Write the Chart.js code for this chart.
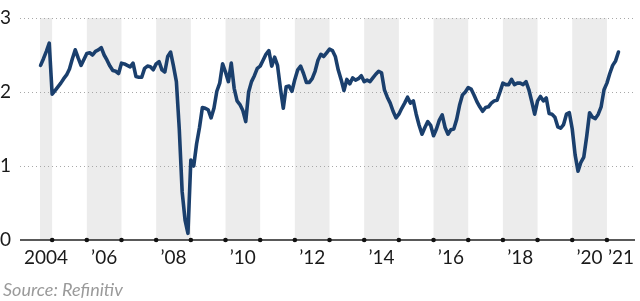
<!DOCTYPE html>
<html>
<head>
<meta charset="utf-8">
<script src="https://cdn.jsdelivr.net/npm/chart.js@4"></script>
<style>
  html, body { margin: 0; padding: 0; background: #fff; }
  #wrap { position: relative; width: 640px; height: 301px; }
  #source { position: absolute; left: 3px; top: 278px; font: italic 18px Lato, sans-serif; color: #9a9a9a; white-space: nowrap; }
</style>
</head>
<body>
<div id="wrap">
  <canvas id="c" width="640" height="301"></canvas>
  <div id="source">Source: Refinitiv</div>
</div>
<script>
// Monthly values per year (2004 starts in September, 2021 ends in May)
const firstMonth2004 = 9;
const v2004 = [2.36, 2.45, 2.55, 2.66];
const v2005 = [1.97, 2.02, 2.07, 2.12, 2.18, 2.23, 2.31, 2.45, 2.57, 2.46, 2.36, 2.44];
const v2006 = [2.52, 2.53, 2.50, 2.55, 2.57, 2.60, 2.50, 2.43, 2.35, 2.29, 2.28, 2.25];
const v2007 = [2.39, 2.38, 2.36, 2.34, 2.39, 2.21, 2.20, 2.20, 2.32, 2.35, 2.34, 2.30];
const v2008 = [2.38, 2.41, 2.30, 2.27, 2.48, 2.54, 2.35, 2.14, 1.50, 0.65, 0.27, 0.09];
const v2009 = [1.08, 1.00, 1.30, 1.52, 1.79, 1.78, 1.76, 1.65, 1.78, 2.01, 2.12, 2.38];
const v2010 = [2.27, 2.14, 2.39, 2.05, 1.88, 1.83, 1.75, 1.60, 2.00, 2.14, 2.22, 2.32];
const v2011 = [2.35, 2.43, 2.51, 2.56, 2.35, 2.47, 2.36, 2.05, 1.78, 2.07, 2.08, 2.01];
const v2012 = [2.17, 2.30, 2.35, 2.25, 2.13, 2.13, 2.18, 2.28, 2.43, 2.51, 2.48, 2.53];
const v2013 = [2.58, 2.56, 2.48, 2.30, 2.17, 2.02, 2.17, 2.11, 2.19, 2.16, 2.18, 2.22];
const v2014 = [2.14, 2.16, 2.14, 2.19, 2.24, 2.28, 2.26, 2.03, 1.93, 1.85, 1.74, 1.65];
const v2015 = [1.70, 1.78, 1.85, 1.93, 1.85, 1.88, 1.70, 1.55, 1.43, 1.52, 1.60, 1.55];
const v2016 = [1.41, 1.50, 1.62, 1.69, 1.52, 1.43, 1.49, 1.50, 1.63, 1.82, 1.96, 2.00];
const v2017 = [2.06, 2.04, 1.96, 1.87, 1.80, 1.74, 1.79, 1.80, 1.85, 1.88, 1.89, 2.00];
const v2018 = [2.12, 2.10, 2.10, 2.17, 2.10, 2.12, 2.12, 2.10, 2.14, 2.03, 1.87, 1.70];
const v2019 = [1.88, 1.94, 1.88, 1.92, 1.71, 1.70, 1.66, 1.53, 1.51, 1.56, 1.70, 1.72];
const v2020 = [1.50, 1.15, 0.93, 1.05, 1.12, 1.40, 1.72, 1.66, 1.64, 1.70, 1.80, 2.03];
const v2021 = [2.12, 2.25, 2.36, 2.42, 2.54];

const yearSeries = [
  [2004, v2004], [2005, v2005], [2006, v2006], [2007, v2007], [2008, v2008],
  [2009, v2009], [2010, v2010], [2011, v2011], [2012, v2012], [2013, v2013],
  [2014, v2014], [2015, v2015], [2016, v2016], [2017, v2017], [2018, v2018],
  [2019, v2019], [2020, v2020], [2021, v2021]
];

const yTicks = [0, 1, 2, 3];
const xLabelYears = [2004, 2006, 2008, 2010, 2012, 2014, 2016, 2018, 2020, 2021];
const xLabelTexts = ["2004", "\u201906", "\u201908", "\u201910", "\u201912", "\u201914", "\u201916", "\u201918", "\u201920", "\u201921"];
const shadedYears = [2004, 2006, 2008, 2010, 2012, 2014, 2016, 2018, 2020];
const boundaryYears = [2005, 2006, 2007, 2008, 2009, 2010, 2011, 2012, 2013, 2014, 2015, 2016, 2017, 2018, 2019, 2020, 2021];

const X_MIN = 2004.65, X_MAX = 2021.81;

const points = [];
yearSeries.forEach(([yr, vals]) => {
  const m0 = yr === 2004 ? firstMonth2004 - 1 : 0;
  vals.forEach((v, i) => points.push({ x: yr + (m0 + i) / 12, y: v }));
});

const labelPos = xLabelYears.map(y => (Math.max(y, X_MIN) + Math.min(y + 1, X_MAX)) / 2);

const decor = {
  id: 'decor',
  beforeDraw(chart) {
    const { ctx, chartArea: a, scales: { x, y } } = chart;
    ctx.save();
    ctx.fillStyle = '#ececec';
    shadedYears.forEach(yr => {
      const l = Math.max(x.getPixelForValue(yr), a.left);
      const r = Math.min(x.getPixelForValue(yr + 1), a.right);
      ctx.fillRect(l, a.top, r - l, a.bottom - a.top);
    });
    // dotted horizontal gridlines
    ctx.strokeStyle = '#a8a8a8';
    ctx.lineWidth = 1;
    ctx.setLineDash([1, 3]);
    yTicks.filter(v => v !== 0).forEach(v => {
      const py = Math.round(y.getPixelForValue(v)) + 0.5;
      ctx.beginPath();
      ctx.moveTo(20, py);
      ctx.lineTo(a.right, py);
      ctx.stroke();
    });
    ctx.restore();
  },
  afterDraw(chart) {
    const { ctx, chartArea: a, scales: { x, y } } = chart;
    const y0 = y.getPixelForValue(0);
    ctx.save();
    ctx.strokeStyle = '#222';
    ctx.lineWidth = 1.5;
    ctx.beginPath();
    ctx.moveTo(20, y0);
    ctx.lineTo(a.right, y0);
    ctx.stroke();
    ctx.fillStyle = '#111';
    boundaryYears.forEach(yr => {
      ctx.beginPath();
      ctx.arc(x.getPixelForValue(yr), y0, 2.3, 0, Math.PI * 2);
      ctx.fill();
    });
    ctx.restore();
  }
};

new Chart(document.getElementById('c'), {
  type: 'line',
  data: {
    datasets: [{
      data: points,
      borderColor: '#1a3f6d',
      borderWidth: 3.6,
      pointRadius: 0,
      tension: 0,
      borderJoinStyle: 'round',
      borderCapStyle: 'round',
      clip: false
    }]
  },
  options: {
    responsive: false,
    animation: false,
    devicePixelRatio: 1,
    layout: { padding: { top: 18, right: 0, left: 0, bottom: 0 } },
    plugins: { legend: { display: false }, tooltip: { enabled: false } },
    scales: {
      x: {
        type: 'linear',
        min: X_MIN,
        max: X_MAX,
        afterFit(s) { s.height = 61; },
        afterBuildTicks(s) { s.ticks = labelPos.map(v => ({ value: v })); },
        ticks: {
          autoSkip: false,
          maxRotation: 0,
          padding: 6,
          color: '#1a1a1a',
          font: { family: 'Lato', size: 19 },
          callback(v, i) { return xLabelTexts[i]; }
        },
        grid: { display: false, drawTicks: false },
        border: { display: false }
      },
      y: {
        min: 0,
        max: 3,
        afterFit(s) { s.width = 40; },
        afterBuildTicks(s) { s.ticks = yTicks.map(v => ({ value: v })); },
        ticks: {
          crossAlign: 'far',
          padding: 0,
          color: '#1a1a1a',
          font: { family: 'Lato', size: 19 }
        },
        grid: { display: false, drawTicks: false },
        border: { display: false }
      }
    }
  },
  plugins: [decor]
});
</script>
</body>
</html>
